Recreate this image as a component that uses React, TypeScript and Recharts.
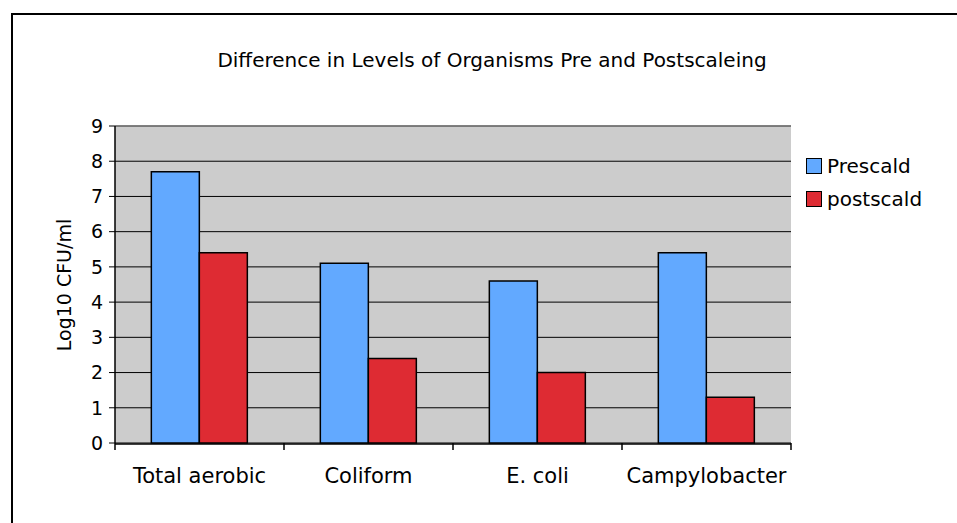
import React from "react";
import {
  BarChart,
  Bar,
  XAxis,
  YAxis,
  CartesianGrid,
  ReferenceLine,
} from "recharts";

const categories = ["Total aerobic", "Coliform", "E. coli", "Campylobacter"];
const prescald = [7.7, 5.1, 4.6, 5.4];
const postscald = [5.4, 2.4, 2.0, 1.3];
const yTicks = [0, 1, 2, 3, 4, 5, 6, 7, 8, 9];
const edgeTicks = [0, 1, 2, 3, 4];

const BLUE = "#62a9ff";
const RED = "#de2b33";
const FONT = "'DejaVu Sans', Verdana, sans-serif";

const data = categories.map((name, i) => ({
  name,
  prescald: prescald[i],
  postscald: postscald[i],
  edge: i + 0.5,
}));

const legendItems = [
  { label: "Prescald", color: BLUE },
  { label: "postscald", color: RED },
];

export default function App() {
  return (
    <div
      style={{
        position: "fixed",
        left: 0,
        top: 0,
        width: 957,
        height: 523,
        background: "#fff",
        fontFamily: FONT,
        overflow: "hidden",
      }}
    >
      <div
        style={{
          position: "absolute",
          left: 11,
          top: 13,
          width: 1000,
          height: 600,
          border: "2px solid #000",
        }}
      />
      <div
        style={{
          position: "absolute",
          left: 0,
          width: 984,
          top: 48,
          textAlign: "center",
          fontSize: 20,
          color: "#000",
        }}
      >
        Difference in Levels of Organisms Pre and Postscaleing
      </div>
      <div
        style={{
          position: "absolute",
          left: 64,
          top: 285,
          transform: "translate(-50%, -50%) rotate(-90deg)",
          whiteSpace: "nowrap",
          fontSize: 19,
          color: "#000",
        }}
      >
        Log10 CFU/ml
      </div>
      <div style={{ position: "absolute", left: 806, top: 149 }}>
        {legendItems.map((it) => (
          <div
            key={it.label}
            style={{
              display: "flex",
              alignItems: "center",
              height: 33,
              fontSize: 20,
              color: "#000",
            }}
          >
            <span
              style={{
                display: "inline-block",
                width: 14,
                height: 14,
                background: it.color,
                border: "1px solid #000",
                marginRight: 5,
              }}
            />
            {it.label}
          </div>
        ))}
      </div>
      <div style={{ position: "absolute", left: 0, top: 0 }}>
        <BarChart
          width={957}
          height={523}
          data={data}
          margin={{ top: 126, right: 166, bottom: 49, left: 55 }}
          barCategoryGap="21.5%"
          barGap={0}
        >
          <CartesianGrid
            vertical={false}
            xAxisId="b"
            stroke="#000"
            strokeOpacity={1}
            fill="#cccccc"
            fillOpacity={1}
          />
          <ReferenceLine y={9} xAxisId="b" stroke="#808080" strokeWidth={1.5} />
          <XAxis
            xAxisId="a"
            type="number"
            dataKey="edge"
            domain={[0, 4]}
            ticks={edgeTicks}
            axisLine={false}
            tick={{ fill: "transparent", fontSize: 1 }}
            tickLine={{ stroke: "#000", strokeWidth: 1.5 }}
            tickSize={7}
            height={1}
            interval={0}
          />
          <XAxis
            dataKey="name"
            xAxisId="b"
            axisLine={{ stroke: "#000", strokeWidth: 1.5 }}
            tickLine={false}
            tick={{ fill: "#000", fontSize: 21, fontFamily: FONT }}
            tickMargin={18}
            interval={0}
            height={30}
          />
          <YAxis
            domain={[0, 9]}
            ticks={yTicks}
            width={60}
            axisLine={{ stroke: "#000", strokeWidth: 1.5 }}
            tickLine={{ stroke: "#000", strokeWidth: 1 }}
            tickSize={6}
            tick={{ fill: "#000", fontSize: 19, fontFamily: FONT }}
            tickMargin={6}
            interval={0}
          />
          <Bar
            dataKey="prescald"
            xAxisId="b"
            fill={BLUE}
            stroke="#000"
            strokeWidth={1.5}
            isAnimationActive={false}
          />
          <Bar
            dataKey="postscald"
            xAxisId="b"
            fill={RED}
            stroke="#000"
            strokeWidth={1.5}
            isAnimationActive={false}
          />
        </BarChart>
      </div>
    </div>
  );
}
